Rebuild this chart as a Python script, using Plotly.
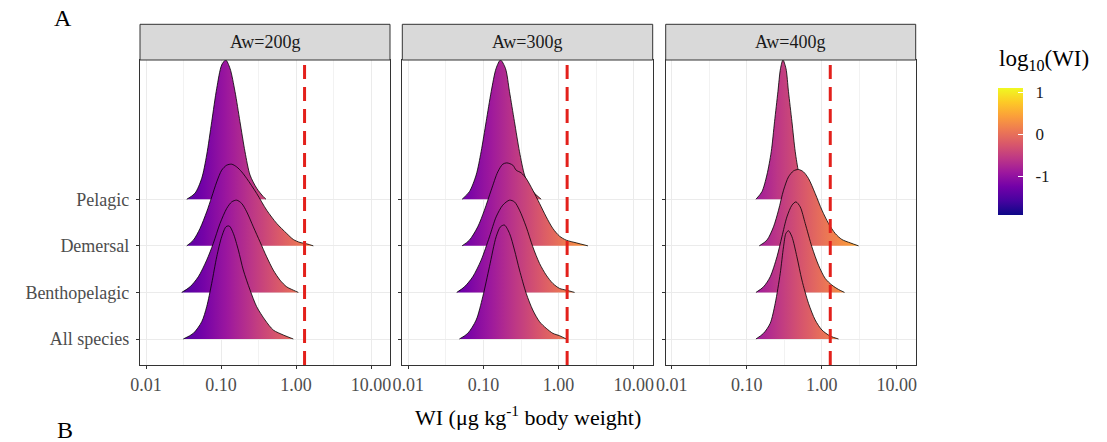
import plotly.graph_objects as go
from plotly.colors import sample_colorscale

# ---------------- data ----------------
categories = ["All species", "Benthopelagic", "Demersal", "Pelagic"]
facets = ["Aw=200g", "Aw=300g", "Aw=400g"]
x_tick_vals = [0.01, 0.1, 1, 10]
x_tick_text = ["0.01", "0.10", "1.00", "10.00"]
cbar_tick_vals = [-1, 0, 1]
cbar_tick_text = ["-1", "0", "1"]
threshold_wi = 1.3
log_wi_limits = [-1.93, 1.10]

# ridge outlines: log10(WI) and scaled density height (category-spacing units)
aw200_pelagic_log = [-1.457, -1.347, -1.257, -1.191, -1.124, -1.057, -0.991, -0.937, -0.88, -0.813, -0.747, -0.68, -0.613, -0.524, -0.436, -0.40]
aw200_pelagic_h = [0, 0.129, 0.451, 0.951, 1.665, 2.382, 2.882, 2.99, 2.81, 2.31, 1.665, 1.02, 0.52, 0.236, 0.056, 0]
aw200_demersal_log = [-1.457, -1.369, -1.28, -1.191, -1.124, -1.057, -0.991, -0.924, -0.857, -0.791, -0.724, -0.657, -0.524, -0.391, -0.257, -0.124, -0.036, 0.053, 0.143, 0.231]
aw200_demersal_h = [0, 0.122, 0.373, 0.73, 1.05, 1.373, 1.624, 1.732, 1.753, 1.695, 1.588, 1.446, 1.124, 0.766, 0.481, 0.266, 0.137, 0.073, 0.043, 0]
aw200_bentho_log = [-1.524, -1.413, -1.303, -1.191, -1.103, -1.013, -0.924, -0.857, -0.791, -0.724, -0.657, -0.569, -0.48, -0.391, -0.303, -0.213, -0.124, -0.036, 0.031]
aw200_bentho_h = [0, 0.12, 0.335, 0.693, 1.052, 1.481, 1.803, 1.944, 1.981, 1.91, 1.73, 1.408, 1.086, 0.764, 0.479, 0.264, 0.12, 0.049, 0]
aw200_all_log = [-1.503, -1.369, -1.257, -1.191, -1.124, -1.057, -0.991, -0.933, -0.889, -0.836, -0.769, -0.703, -0.613, -0.524, -0.413, -0.303, -0.169, -0.036]
aw200_all_h = [0, 0.122, 0.371, 0.693, 1.195, 1.766, 2.195, 2.41, 2.425, 2.268, 1.91, 1.481, 1.052, 0.693, 0.408, 0.193, 0.086, 0]

aw300_pelagic_log = [-1.284, -1.187, -1.097, -1.031, -0.964, -0.897, -0.831, -0.773, -0.707, -0.653, -0.587, -0.52, -0.453, -0.387, -0.32, -0.231]
aw300_pelagic_h = [0, 0.163, 0.521, 1.021, 1.665, 2.309, 2.811, 2.99, 2.811, 2.309, 1.665, 1.021, 0.521, 0.27, 0.129, 0]
aw300_demersal_log = [-1.284, -1.187, -1.076, -0.987, -0.897, -0.809, -0.743, -0.689, -0.609, -0.564, -0.497, -0.431, -0.343, -0.253, -0.164, -0.076, 0.013, 0.103, 0.236, 0.391]
aw300_demersal_h = [0, 0.122, 0.408, 0.766, 1.195, 1.588, 1.753, 1.781, 1.732, 1.624, 1.567, 1.446, 1.195, 0.91, 0.622, 0.373, 0.208, 0.122, 0.064, 0]
aw300_bentho_log = [-1.356, -1.253, -1.143, -1.031, -0.92, -0.831, -0.743, -0.653, -0.587, -0.52, -0.431, -0.343, -0.253, -0.164, -0.076, 0.013, 0.103, 0.213]
aw300_bentho_h = [0, 0.12, 0.335, 0.693, 1.193, 1.622, 1.873, 1.981, 1.944, 1.766, 1.408, 0.979, 0.622, 0.371, 0.193, 0.086, 0.049, 0]
aw300_all_log = [-1.32, -1.209, -1.097, -1.009, -0.92, -0.831, -0.773, -0.72, -0.653, -0.587, -0.52, -0.431, -0.343, -0.253, -0.164, -0.076, 0.013, 0.103]
aw300_all_h = [0, 0.122, 0.408, 0.908, 1.552, 2.195, 2.41, 2.446, 2.268, 1.91, 1.481, 0.981, 0.622, 0.371, 0.23, 0.122, 0.071, 0]

aw400_pelagic_log = [-0.877, -0.797, -0.731, -0.673, -0.629, -0.584, -0.549, -0.517, -0.477, -0.443, -0.397, -0.353, -0.309, -0.264, -0.211, -0.153]
aw400_pelagic_h = [0, 0.163, 0.521, 1.021, 1.665, 2.309, 2.811, 2.99, 2.811, 2.309, 1.665, 1.021, 0.592, 0.343, 0.163, 0]
aw400_demersal_log = [-0.833, -0.731, -0.643, -0.576, -0.509, -0.443, -0.376, -0.309, -0.243, -0.176, -0.087, 0.003, 0.091, 0.18, 0.269, 0.38, 0.491]
aw400_demersal_h = [0, 0.122, 0.408, 0.766, 1.195, 1.481, 1.609, 1.639, 1.588, 1.446, 1.124, 0.766, 0.481, 0.266, 0.137, 0.064, 0]
aw400_bentho_log = [-0.877, -0.776, -0.687, -0.597, -0.531, -0.464, -0.397, -0.344, -0.287, -0.22, -0.131, -0.043, 0.047, 0.136, 0.224, 0.304]
aw400_bentho_h = [0, 0.12, 0.335, 0.764, 1.193, 1.622, 1.873, 1.944, 1.837, 1.481, 0.979, 0.586, 0.3, 0.157, 0.064, 0]
aw400_all_log = [-0.877, -0.776, -0.687, -0.62, -0.553, -0.509, -0.477, -0.443, -0.397, -0.331, -0.264, -0.176, -0.087, 0.003, 0.113, 0.224]
aw400_all_h = [0, 0.122, 0.337, 0.766, 1.41, 1.981, 2.268, 2.324, 2.195, 1.766, 1.266, 0.766, 0.408, 0.193, 0.064, 0]

ridges = {
    "Aw=200g": {"Pelagic": (aw200_pelagic_log, aw200_pelagic_h), "Demersal": (aw200_demersal_log, aw200_demersal_h),
                "Benthopelagic": (aw200_bentho_log, aw200_bentho_h), "All species": (aw200_all_log, aw200_all_h)},
    "Aw=300g": {"Pelagic": (aw300_pelagic_log, aw300_pelagic_h), "Demersal": (aw300_demersal_log, aw300_demersal_h),
                "Benthopelagic": (aw300_bentho_log, aw300_bentho_h), "All species": (aw300_all_log, aw300_all_h)},
    "Aw=400g": {"Pelagic": (aw400_pelagic_log, aw400_pelagic_h), "Demersal": (aw400_demersal_log, aw400_demersal_h),
                "Benthopelagic": (aw400_bentho_log, aw400_bentho_h), "All species": (aw400_all_log, aw400_all_h)},
}

# ---------------- layout geometry ----------------
W, H = 1107, 442
FONT = "Liberation Serif, Times New Roman, serif"
panel_px = [(140, 390), (402.3, 652.7), (665.7, 915.7)]
panel_top, panel_bot = 60, 365
strip_top = 24.3
x_range = [-2.08, 1.253]
y_range = [0.442, 6.99]


def fx(p):
    return p / W


def fy(p):
    return 1 - p / H


fig = go.Figure()
cmin, cmax = log_wi_limits

for i, facet in enumerate(facets):
    sfx = "" if i == 0 else str(i + 1)
    xa, ya = "x" + sfx, "y" + sfx
    for cat in ["Pelagic", "Demersal", "Benthopelagic", "All species"]:
        lg, hh = ridges[facet][cat]
        base = categories.index(cat) + 1
        xs = [10 ** v for v in lg]
        ys = [base + h for h in hh]
        lo, hi = min(lg), max(lg)
        n = 16
        ts = [((lo + (hi - lo) * k / (n - 1)) - cmin) / (cmax - cmin) for k in range(n)]
        cols = sample_colorscale("Plasma", ts)
        cscale = [[k / (n - 1), cols[k]] for k in range(n)]
        fig.add_trace(go.Scatter(
            x=xs, y=ys, xaxis=xa, yaxis=ya, mode="lines",
            line=dict(width=0, shape="spline", smoothing=0.8),
            fill="toself", fillgradient=dict(type="horizontal", colorscale=cscale),
            hoverinfo="skip", showlegend=False))
        fig.add_trace(go.Scatter(
            x=xs, y=ys, xaxis=xa, yaxis=ya, mode="lines",
            line=dict(width=0.8, color="black", shape="spline", smoothing=0.8),
            hoverinfo="skip", showlegend=False))

    # threshold line
    fig.add_shape(type="line", xref=xa, yref=ya + " domain", x0=threshold_wi, x1=threshold_wi,
                  y0=0, y1=1, line=dict(color="#E3201B", width=3, dash="14px,8px"), layer="above")

    # strip
    x0p, x1p = panel_px[i]
    fig.add_shape(type="rect", xref="paper", yref="paper", x0=fx(x0p), x1=fx(x1p),
                  y0=fy(panel_top), y1=fy(strip_top), fillcolor="#D9D9D9",
                  line=dict(color="#333333", width=1))
    fig.add_annotation(xref="paper", yref="paper", x=fx((x0p + x1p) / 2), y=fy((panel_top + strip_top) / 2),
                       text=facet, showarrow=False, font=dict(family=FONT, size=18, color="#1A1A1A"),
                       xanchor="center", yanchor="middle")

    common_axis = dict(showline=True, mirror=True, linecolor="#333333", linewidth=1.1,
                       ticks="outside", ticklen=3, tickcolor="#333333", zeroline=False,
                       gridcolor="#EBEBEB", gridwidth=1.3, automargin=False)
    fig.update_layout(**{
        "xaxis" + sfx: dict(type="log", range=x_range, domain=[fx(x0p), fx(x1p)], anchor=ya,
                            tickvals=x_tick_vals, ticktext=x_tick_text,
                            tickfont=dict(family=FONT, size=18, color="#4D4D4D"),
                            minor=dict(showgrid=True, gridcolor="#F2F2F2", gridwidth=0.7,
                                       tickmode="array", tickvals=[10 ** -1.5, 10 ** -0.5, 10 ** 0.5], ticks=""),
                            **common_axis),
        "yaxis" + sfx: dict(range=y_range, domain=[fy(panel_bot), fy(panel_top)], anchor=xa,
                            tickvals=[1, 2, 3, 4], ticktext=categories, showticklabels=(i == 0),
                            ticklabelstandoff=3,
                            tickfont=dict(family=FONT, size=18, color="#4D4D4D"),
                            **common_axis),
    })

# colour bar
fig.add_trace(go.Scatter(
    x=[None, None], y=[None, None], mode="markers", showlegend=False, hoverinfo="skip",
    marker=dict(color=log_wi_limits, colorscale="Plasma", cmin=cmin, cmax=cmax, showscale=True,
                colorbar=dict(thickness=25, thicknessmode="pixels", len=127, lenmode="pixels", ypad=0,
                              x=fx(998), xanchor="left", y=fy(151.5), yanchor="middle", xpad=0,
                              outlinewidth=0, tickvals=cbar_tick_vals,
                              ticktext=["\u00a0\u00a0" + t for t in cbar_tick_text],
                              ticks="inside", ticklen=5, tickcolor="white", tickwidth=1,
                              tickfont=dict(family=FONT, size=17, color="#1A1A1A"))),
))

annotations = [
    dict(x=fx(1044), y=fy(60), text="log<sub>10</sub>(WI)", font=dict(family=FONT, size=23, color="black")),
    dict(x=fx(527.9), y=fy(416), text="WI (μg kg<sup>-1</sup> body weight)", font=dict(family=FONT, size=22, color="black")),
    dict(x=fx(63), y=fy(18), text="A", font=dict(family=FONT, size=24, color="black")),
    dict(x=fx(65), y=fy(430), text="B", font=dict(family=FONT, size=24, color="black")),
]
for a in annotations:
    fig.add_annotation(xref="paper", yref="paper", showarrow=False, xanchor="center", yanchor="middle", **a)

fig.update_layout(width=W, height=H, margin=dict(l=0, r=0, t=0, b=0, autoexpand=False),
                  plot_bgcolor="white", paper_bgcolor="white", showlegend=False,
                  font=dict(family=FONT))

fig.write_html("out.html", config={"displayModeBar": False},
               post_script="document.body.style.margin='0px';")
